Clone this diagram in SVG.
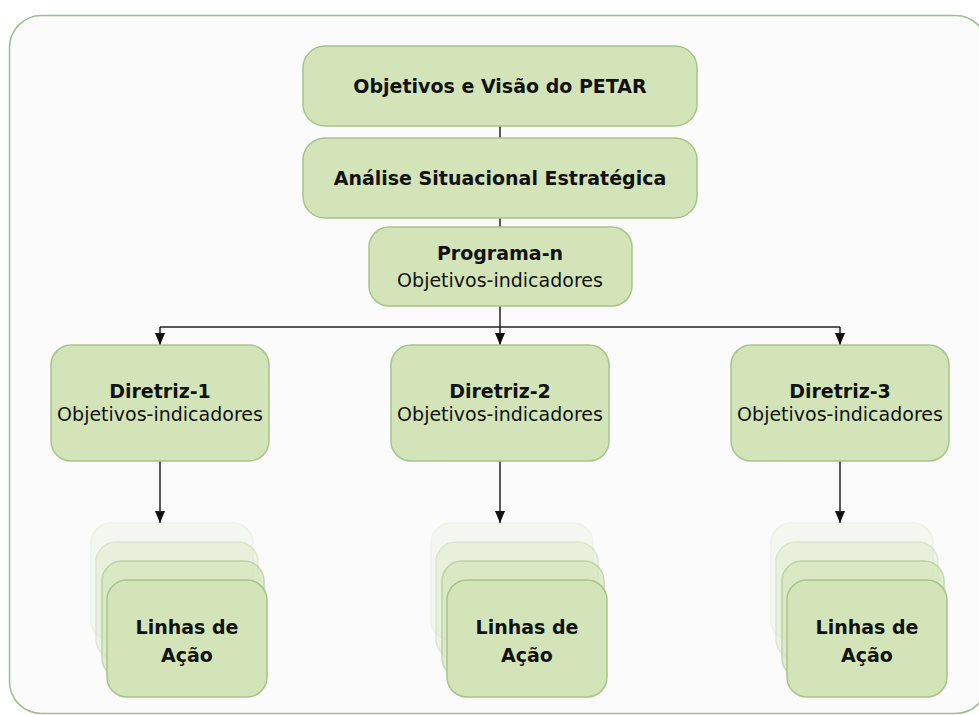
<svg xmlns="http://www.w3.org/2000/svg" width="979" height="715" viewBox="0 0 979 715">
<defs>
<marker id="ah" markerWidth="12" markerHeight="10" refX="12" refY="5" orient="auto" markerUnits="userSpaceOnUse" viewBox="0 0 12 10">
<path d="M0,0 L12,5 L0,10 Z" fill="#111"/>
</marker>
</defs>
<style>
.frame{fill:#fbfbfb;stroke:#9cc08a;stroke-width:1.5}
.box{fill:#d3e5b8;stroke:#a8c48c;stroke-width:1.5}
.l1{opacity:0.15}
.l2{opacity:0.35}
.l3{opacity:0.65}
.t{font-family:"DejaVu Sans",Verdana,sans-serif;font-size:19px;fill:#111;text-anchor:middle}
.b{font-weight:bold}
.c{fill:none;stroke:#222;stroke-width:1.5}
</style>
<rect class="frame" x="9.5" y="15.5" width="978" height="698" rx="32"/>
<g id="connectors">
<line class="c" x1="500" y1="126" x2="500" y2="138"/>
<line class="c" x1="500" y1="218" x2="500" y2="227"/>
<line class="c" x1="500" y1="306" x2="500" y2="327"/>
<line class="c" x1="160" y1="327" x2="840" y2="327"/>
<line class="c" x1="160" y1="327" x2="160" y2="345" marker-end="url(#ah)"/>
<line class="c" x1="500" y1="327" x2="500" y2="345" marker-end="url(#ah)"/>
<line class="c" x1="840" y1="327" x2="840" y2="345" marker-end="url(#ah)"/>
<line class="c" x1="160" y1="461" x2="160" y2="523" marker-end="url(#ah)"/>
<line class="c" x1="500" y1="461" x2="500" y2="523" marker-end="url(#ah)"/>
<line class="c" x1="840" y1="461" x2="840" y2="523" marker-end="url(#ah)"/>
</g>
<g id="objetivos">
<rect class="box" x="303" y="46" width="394" height="80" rx="22"/>
<text class="t b" x="500" y="93">Objetivos e Visão do PETAR</text>
</g>
<g id="analise">
<rect class="box" x="303" y="138" width="394" height="80" rx="22"/>
<text class="t b" x="500" y="185">Análise Situacional Estratégica</text>
</g>
<g id="programa">
<rect class="box" x="369" y="227" width="263" height="79" rx="20"/>
<text class="t b" x="500" y="260">Programa-n</text>
<text class="t" x="500" y="287">Objetivos-indicadores</text>
</g>
<g id="diretriz1">
<rect class="box" x="51" y="345" width="218" height="116" rx="20"/>
<text class="t b" x="160" y="398">Diretriz-1</text>
<text class="t" x="160" y="421">Objetivos-indicadores</text>
</g>
<g id="diretriz2">
<rect class="box" x="391" y="345" width="218" height="116" rx="20"/>
<text class="t b" x="500" y="398">Diretriz-2</text>
<text class="t" x="500" y="421">Objetivos-indicadores</text>
</g>
<g id="diretriz3">
<rect class="box" x="731" y="345" width="218" height="116" rx="20"/>
<text class="t b" x="840" y="398">Diretriz-3</text>
<text class="t" x="840" y="421">Objetivos-indicadores</text>
</g>
<g id="linhas1">
<rect class="box l1" x="91" y="523" width="162" height="117" rx="20"/>
<rect class="box l2" x="96" y="542" width="162" height="117" rx="20"/>
<rect class="box l3" x="102" y="561" width="162" height="117" rx="20"/>
<rect class="box" x="107" y="580" width="160" height="117" rx="20"/>
<text class="t b" x="187" y="634">Linhas de</text>
<text class="t b" x="187" y="662">Ação</text>
</g>
<g id="linhas2">
<rect class="box l1" x="431" y="523" width="162" height="117" rx="20"/>
<rect class="box l2" x="436" y="542" width="162" height="117" rx="20"/>
<rect class="box l3" x="442" y="561" width="162" height="117" rx="20"/>
<rect class="box" x="447" y="580" width="160" height="117" rx="20"/>
<text class="t b" x="527" y="634">Linhas de</text>
<text class="t b" x="527" y="662">Ação</text>
</g>
<g id="linhas3">
<rect class="box l1" x="771" y="523" width="162" height="117" rx="20"/>
<rect class="box l2" x="776" y="542" width="162" height="117" rx="20"/>
<rect class="box l3" x="782" y="561" width="162" height="117" rx="20"/>
<rect class="box" x="787" y="580" width="160" height="117" rx="20"/>
<text class="t b" x="867" y="634">Linhas de</text>
<text class="t b" x="867" y="662">Ação</text>
</g>
</svg>
